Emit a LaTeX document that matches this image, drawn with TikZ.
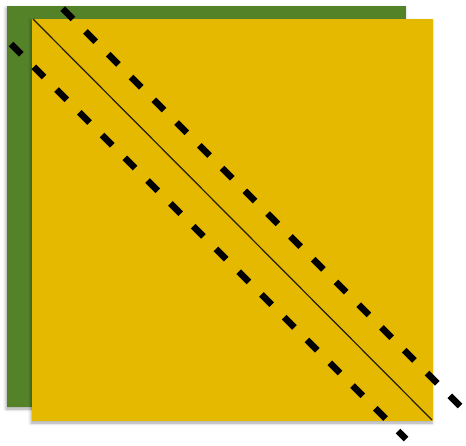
\documentclass[tikz,border=0pt]{standalone}
\usetikzlibrary{shadows.blur}
\definecolor{sqgreen}{RGB}{84,130,40}
\definecolor{sqyellow}{RGB}{229,185,0}
\tikzset{
  sqshadow/.style={blur shadow={shadow xshift=-1pt, shadow yshift=-2pt, shadow blur radius=3pt, shadow opacity=35}},
  thickdash/.style={line width=6.5pt, dash pattern=on 14.5pt off 17.7pt, black},
  diag/.style={line width=1.2pt, black!85!sqyellow}
}
\begin{document}
\begin{tikzpicture}[x=1pt,y=-1pt]
\useasboundingbox (0,0) rectangle (466,445);
% back green square
\fill[sqgreen, sqshadow] (7,6) rectangle (406,407);
% front yellow square
\fill[sqyellow, sqshadow] (32,19) rectangle (433,421);
% thin diagonal
\coordinate (ytl) at (33,19);
\coordinate (ybr) at (432,420);
\draw[diag] (ytl) -- (ybr);
% dashed parallels
\coordinate (ua) at (62.7,8.7);
\coordinate (ub) at (460,406);
\coordinate (la) at (11,44);
\coordinate (lb) at (406,439);
\draw[thickdash] (ua) -- (ub);
\draw[thickdash] (la) -- (lb);
\end{tikzpicture}
\end{document}
